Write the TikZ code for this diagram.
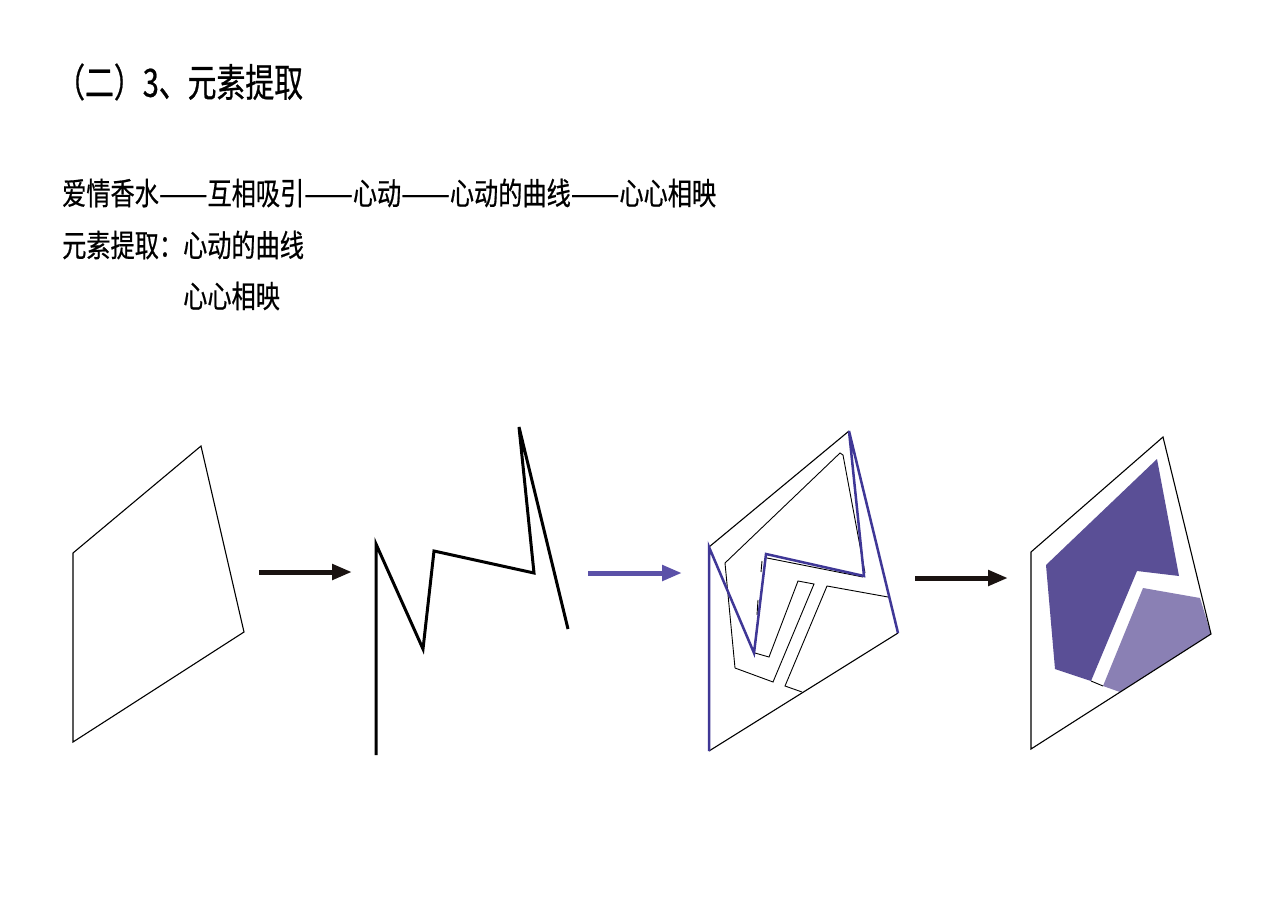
\documentclass[tikz,border=0pt]{standalone}
\usepackage{fontspec}
\newfontfamily\cjktitle[FakeStretch=0.74,FakeBold=0.6]{Noto Sans CJK SC}
\newfontfamily\cjkbody[FakeStretch=0.78,FakeBold=0.6]{Noto Sans CJK SC}
\usetikzlibrary{arrows.meta}
\definecolor{linkblue}{HTML}{3F3796}
\definecolor{arrowblue}{HTML}{5B51A8}
\definecolor{darkpurple}{HTML}{5A4F96}
\definecolor{lightpurple}{HTML}{8A80B4}
\definecolor{arrowblack}{HTML}{1A1311}
\newcommand{\longdash}{\scalebox{1.2}[1]{——}}
\tikzset{
  thinline/.style={draw=black, line width=1.1pt, line join=miter},
  zigline/.style={draw=black, line width=3pt, line join=miter},
  blueline/.style={draw=linkblue, line width=2.5pt, line join=miter},
  innerline/.style={draw=black, line width=0.9pt},
  bigarrow/.style={line width=5pt, -{Triangle[length=20pt,width=15pt]}},
  titletext/.style={anchor=west, inner sep=0pt, font=\cjktitle\fontsize{39}{44}\selectfont},
  bodytext/.style={anchor=west, inner sep=0pt, font=\cjkbody\fontsize{31}{35}\selectfont},
}
\begin{document}
\begin{tikzpicture}[x=1pt,y=-1pt]
\useasboundingbox (0,0) rectangle (1280,905);
\fill[white] (0,0) rectangle (1280,905);

% texts
\node[titletext] (title) at (56,82) {（二）3、元素提取};
\node[bodytext] (chain) at (62,193) {爱情香水\longdash 互相吸引\longdash 心动\longdash 心动的曲线\longdash 心心相映};
\node[bodytext] (extract) at (62,245) {元素提取：心动的曲线};
\node[bodytext] (extract2) at (183,296) {心心相映};

% figure 1
\draw[thinline] (73,553) -- (201,446) -- (244,632) -- (73,742) -- cycle;

% arrow 1
\coordinate (a1s) at (259,572);
\coordinate (a1e) at (352,572);
\draw[bigarrow, arrowblack] (a1s) -- (a1e);

% figure 2
\draw[zigline] (376,755) -- (376,544) -- (423,649) -- (434,551) -- (534,573) -- (519,427) -- (568,629);

% arrow 2
\coordinate (a2s) at (588,573);
\coordinate (a2e) at (682,573);
\draw[bigarrow, arrowblue] (a2s) -- (a2e);

% figure 3
\draw[thinline] (709,547) -- (849,431);
\draw[thinline] (898,633) -- (709,751);
\draw[innerline] (735,668) -- (725,563) -- (840,453) -- (843,455) -- (865,573);
\draw[innerline] (767,558) -- (863,577);
\draw[innerline] (762,561) -- (761,572);
\draw[innerline] (758,600) -- (757,615);
\draw[innerline] (735,668) -- (773,682) -- (814,584) -- (798,581) -- (769,657) -- (755,653);
\draw[innerline] (888,597) -- (827,586) -- (785,686) -- (802,692);
\draw[blueline] (709,751) -- (709,547) -- (754,653) -- (766,554) -- (864,576) -- (849,431) -- (898,633);

% arrow 3
\coordinate (a3s) at (915,578);
\coordinate (a3e) at (1008,578);
\draw[bigarrow, arrowblack] (a3s) -- (a3e);

% figure 4
\fill[darkpurple] (1046,565) -- (1157,459) -- (1179,576) -- (1137,571) -- (1091,681) -- (1055,669) -- cycle;
\fill[lightpurple] (1143,588) -- (1200,598) -- (1211,634) -- (1120,692) -- (1103,686) -- cycle;
\draw[innerline] (1091,681) -- (1103,686);
\draw[thinline] (1031,749) -- (1031,552) -- (1163,437) -- (1211,634) -- cycle;
\end{tikzpicture}
\end{document}
